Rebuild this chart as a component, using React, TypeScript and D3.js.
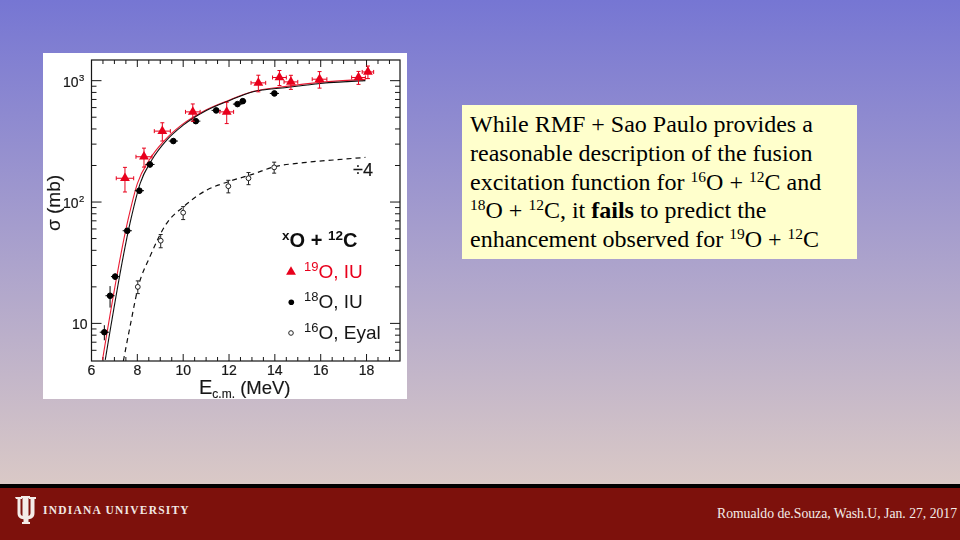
import React from "react";
import * as d3 from "d3";

// --- data ---
const o19X = [7.46, 8.29, 9.09, 10.42, 11.9, 13.28, 14.2, 14.7, 15.95, 17.65, 18.06];
const o19Y = [157, 236, 384, 553, 553, 959, 1062, 977, 1028, 1062, 1180];
const o19Xerr = [0.38, 0.35, 0.35, 0.32, 0.3, 0.32, 0.3, 0.3, 0.32, 0.3, 0.25];
const o19Yerr = [36, 42, 66, 90, 110, 150, 150, 130, 160, 130, 140];

const o18X = [6.56, 6.81, 7.03, 7.56, 8.09, 8.55, 9.57, 10.55, 11.44, 12.37, 12.6, 13.98];
const o18Y = [8.46, 16.9, 24.3, 58, 124, 204, 318, 464, 569, 641, 678, 785];
const o18Xerr = [0.2, 0.2, 0.18, 0.2, 0.2, 0.2, 0.2, 0.2, 0.2, 0.2, 0.15, 0.2];
const o18Yerr = [1.2, 3.4, 1.5, 3, 7, 12, 16, 20, 24, 25, 27, 35];

const o16X = [8.02, 9.02, 10, 11.97, 12.85, 13.97];
const o16Y = [20, 48, 81.7, 135, 157, 193];
const o16Yerr = [2.4, 6, 10, 16, 18, 20];

const blackCurveX = [6.6, 7.71, 8.12, 8.63, 9.28, 10, 11.03, 12.05, 13.05, 14.52, 15.98, 17.95];
const blackCurveY = [5, 71, 142, 222, 324, 430, 571, 691, 809, 879, 948, 1000];
const redCurveX = [6.48, 7.59, 8.0, 8.52, 9.2, 9.92, 10.97, 12.0, 13.0, 14.5, 15.96, 17.95];
const redCurveY = [5, 71, 142, 222, 324, 430, 571, 691, 809, 898, 968, 1025];
const dashCurveX = [7.39, 7.68, 8.04, 8.55, 9.28, 10, 11.03, 11.97, 13.05, 13.97, 15.25, 16.55, 17.95];
const dashCurveY = [4.9, 9.4, 20, 35.5, 66.8, 91, 125.6, 147, 170, 195, 211, 222, 233];

const xMajor = [6, 8, 10, 12, 14, 16, 18];
const xMinor = [6.5, 7, 7.5, 8.5, 9, 9.5, 10.5, 11, 11.5, 12.5, 13, 13.5, 14.5, 15, 15.5, 16.5, 17, 17.5, 18.5, 19];
const yMajor = [10, 100, 1000];
const yMinor = [6, 7, 8, 9, 20, 30, 40, 50, 60, 70, 80, 90, 200, 300, 400, 500, 600, 700, 800, 900];

const bodyLines: { t: string; k?: "s" | "b" }[][] = [
  [{ t: "While RMF + Sao Paulo provides a" }],
  [{ t: "reasonable description of the fusion" }],
  [{ t: "excitation function for " }, { t: "16", k: "s" }, { t: "O + " }, { t: "12", k: "s" }, { t: "C and" }],
  [{ t: "18", k: "s" }, { t: "O + " }, { t: "12", k: "s" }, { t: "C, it " }, { t: "fails", k: "b" }, { t: " to predict the" }],
  [{ t: "enhancement observed for " }, { t: "19", k: "s" }, { t: "O + " }, { t: "12", k: "s" }, { t: "C" }],
];

const sans = "'Liberation Sans', Arial, sans-serif";
const serif = "'Liberation Serif', 'Times New Roman', serif";
const ink = "#161616";
const red = "#e8001c";

const x = d3.scaleLinear().domain([6, 19.46]).range([91.5, 400]);
const y = d3.scaleLog().domain([4.9, 1480]).range([361, 60]);

const curve = (xs: number[], ys: number[]) =>
  d3.line<number>().x((d) => x(d)).y((_, i) => y(ys[i])).curve(d3.curveMonotoneX)(xs) as string;

const tri = d3.symbol().type(d3.symbolTriangle).size(42)() as string;

export default function App() {
  return (
    <svg width={960} height={540} style={{ position: "absolute", left: 0, top: 0, display: "block" }}>
      <defs>
        <linearGradient id="bg" x1="0" y1="0" x2="0" y2="1">
          <stop offset="0" stopColor="#7676d3" />
          <stop offset="1" stopColor="#dac9c6" />
        </linearGradient>
        <filter id="soft" x="-5%" y="-5%" width="110%" height="110%">
          <feGaussianBlur stdDeviation="0.4" />
        </filter>
      </defs>
      <rect width={960} height={486} fill="url(#bg)" />
      <rect y={484} width={960} height={5} fill="#000" />
      <rect y={488} width={960} height={52} fill="#7d110c" />

      {/* chart picture */}
      <rect x={43} y={53} width={364} height={346} fill="#fff" />
      <g filter="url(#soft)">
        <rect x={91.5} y={60} width={308.5} height={301} fill="none" stroke={ink} strokeWidth={1.2} />
        {xMajor.map((v) => (
          <g key={v} stroke={ink} strokeWidth={1}>
            <line x1={x(v)} x2={x(v)} y1={361} y2={354} />
            <line x1={x(v)} x2={x(v)} y1={60} y2={67} />
          </g>
        ))}
        {xMinor.map((v) => (
          <g key={v} stroke={ink} strokeWidth={1}>
            <line x1={x(v)} x2={x(v)} y1={361} y2={357} />
            <line x1={x(v)} x2={x(v)} y1={60} y2={64} />
          </g>
        ))}
        {yMajor.map((v) => (
          <g key={v} stroke={ink} strokeWidth={1}>
            <line x1={91.5} x2={101.5} y1={y(v)} y2={y(v)} />
            <line x1={400} x2={390} y1={y(v)} y2={y(v)} />
          </g>
        ))}
        {yMinor.map((v) => (
          <g key={v} stroke={ink} strokeWidth={1}>
            <line x1={91.5} x2={96.5} y1={y(v)} y2={y(v)} />
            <line x1={400} x2={395} y1={y(v)} y2={y(v)} />
          </g>
        ))}
        <g fontFamily={sans} fill={ink} stroke={ink} strokeWidth={0.2}>
          {xMajor.map((v) => (
            <text key={v} x={x(v)} y={374.5} textAnchor="middle" fontSize={14}>{v}</text>
          ))}
          <text x={78.5} y={87} textAnchor="end" fontSize={14}>10</text>
          <text x={79} y={81} fontSize={9.5}>3</text>
          <text x={78.5} y={208} textAnchor="end" fontSize={14}>10</text>
          <text x={79} y={202} fontSize={9.5}>2</text>
          <text x={87.5} y={329} textAnchor="end" fontSize={14}>10</text>
          <text x={353} y={176} fontSize={18}>÷4</text>
        </g>

        <path d={curve(dashCurveX, dashCurveY)} fill="none" stroke="#111" strokeWidth={1.2} strokeDasharray="5 4" />
        <path d={curve(redCurveX, redCurveY)} fill="none" stroke={red} strokeWidth={1.1} opacity={0.9} />
        <path d={curve(blackCurveX, blackCurveY)} fill="none" stroke="#111" strokeWidth={1.1} />

        {o16X.map((v, i) => (
          <g key={i} stroke="#222" strokeWidth={1}>
            <line x1={x(v)} x2={x(v)} y1={y(o16Y[i] - o16Yerr[i])} y2={y(o16Y[i] + o16Yerr[i])} />
            <line x1={x(v) - 2} x2={x(v) + 2} y1={y(o16Y[i] - o16Yerr[i])} y2={y(o16Y[i] - o16Yerr[i])} />
            <line x1={x(v) - 2} x2={x(v) + 2} y1={y(o16Y[i] + o16Yerr[i])} y2={y(o16Y[i] + o16Yerr[i])} />
            <circle cx={x(v)} cy={y(o16Y[i])} r={2.4} fill="#fff" />
          </g>
        ))}
        {o18X.map((v, i) => (
          <g key={i} stroke="#000" strokeWidth={1}>
            <line x1={x(v - o18Xerr[i])} x2={x(v + o18Xerr[i])} y1={y(o18Y[i])} y2={y(o18Y[i])} />
            <line x1={x(v)} x2={x(v)} y1={y(o18Y[i] - o18Yerr[i])} y2={y(o18Y[i] + o18Yerr[i])} />
            <circle cx={x(v)} cy={y(o18Y[i])} r={2.8} fill="#000" />
          </g>
        ))}
        {o19X.map((v, i) => (
          <g key={i} stroke={red} strokeWidth={1}>
            <line x1={x(v - o19Xerr[i])} x2={x(v + o19Xerr[i])} y1={y(o19Y[i])} y2={y(o19Y[i])} />
            <line x1={x(v)} x2={x(v)} y1={y(o19Y[i] - o19Yerr[i])} y2={y(o19Y[i] + o19Yerr[i])} />
            <line x1={x(v) - 2} x2={x(v) + 2} y1={y(o19Y[i] - o19Yerr[i])} y2={y(o19Y[i] - o19Yerr[i])} />
            <line x1={x(v) - 2} x2={x(v) + 2} y1={y(o19Y[i] + o19Yerr[i])} y2={y(o19Y[i] + o19Yerr[i])} />
            <line x1={x(v - o19Xerr[i])} x2={x(v - o19Xerr[i])} y1={y(o19Y[i]) - 2} y2={y(o19Y[i]) + 2} />
            <line x1={x(v + o19Xerr[i])} x2={x(v + o19Xerr[i])} y1={y(o19Y[i]) - 2} y2={y(o19Y[i]) + 2} />
            <path d={tri} transform={`translate(${x(v)},${y(o19Y[i])})`} fill={red} stroke="none" />
          </g>
        ))}

        {/* legend */}
        <text y={246.5} fontFamily={sans} fontSize={20} fontWeight="bold" fill="#111">
          <tspan x={282} dy={-7} fontSize={13.5}>x</tspan>
          <tspan dy={7}>O + </tspan>
          <tspan dy={-7} fontSize={13.5}>12</tspan>
          <tspan dy={7}>C</tspan>
        </text>
        <path d={tri} transform="translate(291,272)" fill={red} />
        <text y={278} fontFamily={sans} fontSize={19} fill={red}>
          <tspan x={304} dy={-7} fontSize={13}>19</tspan>
          <tspan dy={7}>O, IU</tspan>
        </text>
        <circle cx={291.3} cy={302.3} r={2.8} fill="#000" />
        <text y={308} fontFamily={sans} fontSize={19} fill="#161616">
          <tspan x={304} dy={-7} fontSize={13}>18</tspan>
          <tspan dy={7}>O, IU</tspan>
        </text>
        <circle cx={291} cy={333} r={2.3} fill="#fff" stroke="#222" strokeWidth={1} />
        <text y={339} fontFamily={sans} fontSize={19} fill="#161616">
          <tspan x={304} dy={-7} fontSize={13}>16</tspan>
          <tspan dy={7}>O, Eyal</tspan>
        </text>

        {/* axis titles */}
        <text x={199} y={394} fontFamily={sans} fontSize={18.5} fill="#161616" stroke="#161616" strokeWidth={0.15}>
          <tspan fontSize={20}>E</tspan>
          <tspan dy={4} fontSize={12}>c.m.</tspan>
          <tspan dy={-4}> (MeV)</tspan>
        </text>
        <text transform="translate(60,203) rotate(-90)" textAnchor="middle" fontFamily={sans} fontSize={19} fill="#161616" stroke="#161616" strokeWidth={0.15}>σ (mb)</text>
      </g>

      {/* text box */}
      <rect x={462} y={105} width={395} height={154} fill="#ffffcc" />
      <text fontFamily={serif} fontSize={24} fill="#000">
        {bodyLines.map((line, i) =>
          line.map((r, j) => {
            const base = 132 + i * 28.8;
            return (
              <tspan
                key={`${i}-${j}`}
                x={j === 0 ? 470 : undefined}
                y={r.k === "s" ? base - 8 : base}
                fontSize={r.k === "s" ? 15.5 : 24}
                fontWeight={r.k === "b" ? "bold" : "normal"}
                style={{ whiteSpace: "pre" }}
              >
                {r.t}
              </tspan>
            );
          })
        )}
      </text>

      {/* footer */}
      <path
        fill="#f4ece8"
        d="M15 497h7v2h-1.5v14c0 1.5 .8 2.5 2 3v-18h-1.5v-2h9v2h-1.5v18c1.2 -.5 2 -1.5 2 -3v-14h-1.5v-2h7v2h-1.5v14c0 4 -2.5 6 -6 6.3v2.7h1.5v2h-8v-2h1.5v-2.7c-3.5 -.3 -6 -2.3 -6 -6.3v-14h-1.5z"
      />
      <text x={43} y={514} fontFamily={serif} fontSize={11.5} fontWeight="bold" fill="#f2e8e4" letterSpacing={1.22}>INDIANA UNIVERSITY</text>
      <text x={717} y={518} fontFamily={serif} fontSize={13.7} fill="#f4ece8">Romualdo de.Souza, Wash.U, Jan. 27, 2017</text>
    </svg>
  );
}
